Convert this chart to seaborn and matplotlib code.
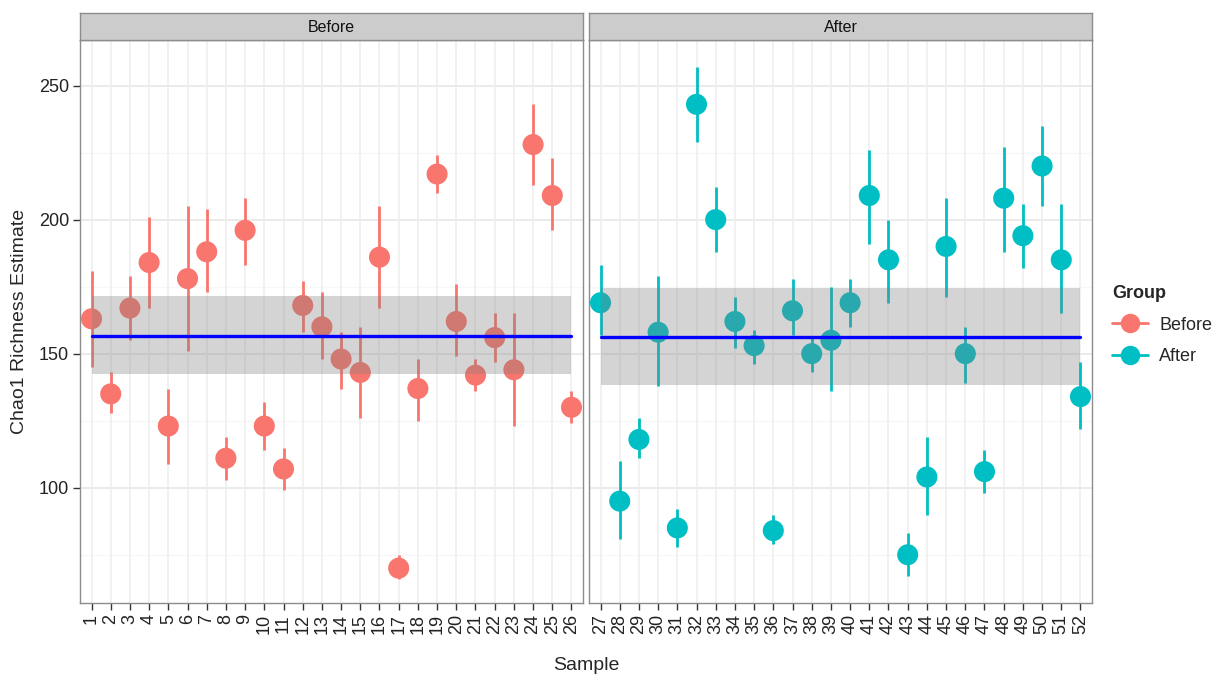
import numpy as np
import pandas as pd
import matplotlib
matplotlib.use("Agg")
import matplotlib.pyplot as plt
import seaborn as sns
from matplotlib.lines import Line2D

# values
samples_before = list(range(1, 27))
samples_after = list(range(27, 53))

chao_before = [163, 135, 167, 184, 123, 178, 188, 111, 196, 123, 107, 168, 160,
               148, 143, 186, 70, 137, 217, 162, 142, 156, 144, 228, 209, 130]
low_before = [145, 128, 155, 167, 109, 151, 173, 103, 183, 114, 99, 158, 148,
              137, 126, 167, 66, 125, 210, 149, 136, 147, 123, 213, 196, 124]
high_before = [181, 143, 179, 201, 137, 205, 204, 119, 208, 132, 115, 177, 173,
               158, 160, 205, 75, 148, 224, 176, 148, 165, 165, 243, 223, 136]

chao_after = [169, 95, 118, 158, 85, 243, 200, 162, 153, 84, 166, 150, 155,
              169, 209, 185, 75, 104, 190, 150, 106, 208, 194, 220, 185, 134]
low_after = [157, 81, 111, 138, 78, 229, 188, 152, 146, 79, 157, 143, 136,
             160, 191, 169, 67, 90, 171, 139, 98, 188, 182, 205, 165, 122]
high_after = [183, 110, 126, 179, 92, 257, 212, 171, 159, 90, 178, 156, 175,
              178, 226, 200, 83, 119, 208, 160, 114, 227, 206, 235, 206, 147]

group_names = ["Before", "After"]
group_colors = ["#F8766D", "#00BFC4"]
group_mean = [156.5, 156.1]
band_low = [142.3, 138.5]
band_high = [171.6, 174.6]

df = pd.concat([
    pd.DataFrame({"Sample": samples_before, "Chao1": chao_before,
                  "lo": low_before, "hi": high_before, "Group": "Before"}),
    pd.DataFrame({"Sample": samples_after, "Chao1": chao_after,
                  "lo": low_after, "hi": high_after, "Group": "After"}),
], ignore_index=True)

sns.set_theme(style="white")
plt.rcParams["font.family"] = ["Liberation Sans", "DejaVu Sans"]

fig = plt.figure(figsize=(12.23, 6.77), dpi=100)
W, H = 1223, 677
panel_w = 503 / W
lefts = [80 / W, 589 / W]
bottom = (H - 603) / H
height = 563 / H
strip_h = 27 / H

palette = dict(zip(group_names, group_colors))
ymin, ymax = 57, 267

for i, g in enumerate(group_names):
    ax = fig.add_axes([lefts[i], bottom, panel_w, height])
    sub = df[df["Group"] == g].reset_index(drop=True)
    sub["pos"] = np.arange(len(sub))

    # grid
    for yv in [75, 125, 175, 225]:
        ax.axhline(yv, color="#F7F7F7", lw=0.9, zorder=0)
    for yv in [100, 150, 200, 250]:
        ax.axhline(yv, color="#E6E6E6", lw=1.1, zorder=0)
    for xv in sub["pos"]:
        ax.axvline(xv, color="#EDEDED", lw=1.1, zorder=0)

    ax.vlines(sub["pos"], sub["lo"], sub["hi"], color=palette[g], lw=2.0, zorder=2)
    sns.scatterplot(data=sub, x="pos", y="Chao1", hue="Group", palette=palette,
                    s=230, edgecolor="none", legend=False, ax=ax, zorder=3)

    x0, x1 = 0, len(sub) - 1
    ax.fill_between([x0, x1], band_low[i], band_high[i], color="#7F7F7F",
                    alpha=0.33, lw=0, zorder=4)
    ax.plot([x0, x1], [group_mean[i]] * 2, color="#0000FF", lw=2.4, zorder=5)

    ax.set_xlim(-0.6, len(sub) - 0.4)
    ax.set_ylim(ymin, ymax)
    ax.set_xticks(sub["pos"])
    ax.set_xticklabels([str(s) for s in sub["Sample"]], rotation=90,
                       fontsize=13, color="#222222")
    ax.tick_params(axis="x", length=5, width=1, color="#333333", pad=3, bottom=True)
    ax.set_yticks([100, 150, 200, 250])
    if i == 0:
        ax.tick_params(axis="y", length=5, width=1, color="#333333", labelsize=13,
                       labelcolor="#222222", pad=3, left=True)
        ax.set_ylabel("Chao1 Richness Estimate", fontsize=14, labelpad=8)
    else:
        ax.set_yticklabels([])
        ax.tick_params(axis="y", length=0)
        ax.set_ylabel("")
    ax.set_xlabel("")
    for sp in ax.spines.values():
        sp.set_color("#8C8C8C")
        sp.set_linewidth(1.0)

    # facet strip
    sax = fig.add_axes([lefts[i], bottom + height, panel_w, strip_h])
    sax.set_facecolor("#CCCCCC")
    sax.set_xticks([])
    sax.set_yticks([])
    for sp in sax.spines.values():
        sp.set_color("#8C8C8C")
        sp.set_linewidth(1.0)
    sax.text(0.5, 0.45, g, ha="center", va="center", fontsize=11.5,
             color="#111111", transform=sax.transAxes)

fig.text((80 + 1092) / 2 / W, 12 / H, "Sample", ha="center", va="center", fontsize=14)

handles = [Line2D([0], [0], color=c, lw=2, marker="o", markersize=14,
                  markeredgecolor="none") for c in group_colors]
leg = fig.legend(handles, group_names, title="Group", loc="center left",
                 bbox_to_anchor=(1105 / W, 1 - 325 / H), frameon=False,
                 fontsize=13, title_fontsize=13, handlelength=2.0,
                 handletextpad=0.6, labelspacing=0.8, borderaxespad=0)
leg.get_title().set_fontweight("bold")
leg._legend_box.align = "left"

fig.savefig("out.png", dpi=100)
